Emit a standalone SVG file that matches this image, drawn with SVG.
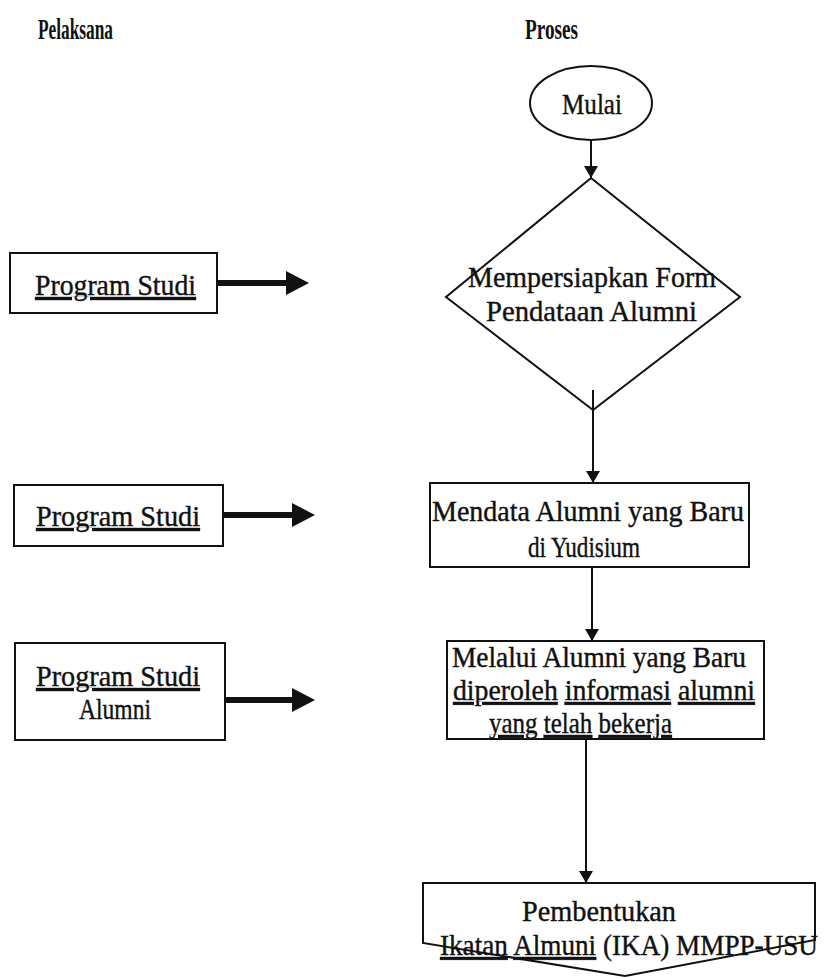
<svg xmlns="http://www.w3.org/2000/svg" width="836" height="978" viewBox="0 0 836 978">
<style>
.t{font-family:"Liberation Serif","Times New Roman",serif;font-size:30px;fill:#111;stroke:#111;stroke-width:0.4;}
.m{font-size:29px;}
.h{font-family:"Liberation Serif","Times New Roman",serif;font-size:30px;font-weight:bold;fill:#111;}
.s{fill:#fff;stroke:#111;stroke-width:2;}
.ln{stroke:#111;stroke-width:2;fill:none;}
.u{text-decoration:underline;}
</style>
<defs>
<marker id="ah" viewBox="0 0 12 14" refX="12" refY="7" markerWidth="12" markerHeight="14" markerUnits="userSpaceOnUse" orient="auto">
<path d="M0,0 L12,7 L0,14 Z" fill="#111"/>
</marker>
</defs>
<rect width="836" height="978" fill="#fff"/>
<text class="h" x="38" y="39" textLength="75" lengthAdjust="spacingAndGlyphs">Pelaksana</text>
<text class="h" x="525" y="39" textLength="53" lengthAdjust="spacingAndGlyphs">Proses</text>

<g id="mulai">
<ellipse class="s" cx="591" cy="103" rx="61" ry="37"/>
<text class="t" x="592" y="114" text-anchor="middle" textLength="60" lengthAdjust="spacingAndGlyphs">Mulai</text>
</g>
<g id="form">
<polygon class="s" points="591,178 740,297 593,410 446,297"/>
<text class="t" x="468" y="287" textLength="248" lengthAdjust="spacingAndGlyphs">Mempersiapkan Form</text>
<text class="t" x="486" y="321" textLength="211" lengthAdjust="spacingAndGlyphs">Pendataan Alumni</text>
</g>
<g id="mendata">
<rect class="s" x="430" y="483" width="319" height="84"/>
<text class="t" x="432" y="521" textLength="312" lengthAdjust="spacingAndGlyphs">Mendata Alumni yang Baru</text>
<text class="t" x="528" y="557" textLength="112" lengthAdjust="spacingAndGlyphs">di Yudisium</text>
</g>
<g id="melalui">
<rect class="s" x="447" y="641" width="317" height="98"/>
<text class="t m" x="452" y="667" textLength="294" lengthAdjust="spacingAndGlyphs">Melalui Alumni yang Baru</text>
<text class="t m" x="453" y="700" textLength="302" lengthAdjust="spacingAndGlyphs"><tspan class="u">diperoleh</tspan> <tspan class="u">informasi</tspan> <tspan class="u">alumni</tspan></text>
<text class="t m" x="489" y="733" textLength="183" lengthAdjust="spacingAndGlyphs"><tspan class="u">yang</tspan> <tspan class="u">telah</tspan> <tspan class="u">bekerja</tspan></text>
</g>
<g id="ika">
<polygon class="s" points="423,883 815,883 815,940 625,976 423,943"/>
<text class="t m" x="522" y="921" textLength="154" lengthAdjust="spacingAndGlyphs">Pembentukan</text>
<text class="t m" x="440" y="955" textLength="378" lengthAdjust="spacingAndGlyphs"><tspan class="u">Ikatan</tspan> <tspan class="u">Almuni</tspan> (IKA) MMPP-USU</text>
</g>

<g id="pelaksana1">
<rect class="s" x="10" y="253" width="207" height="60"/>
<text class="t" x="35" y="295" textLength="161" lengthAdjust="spacingAndGlyphs"><tspan class="u">Program  Studi</tspan></text>
</g>
<g id="pelaksana2">
<rect class="s" x="14" y="485" width="209" height="61"/>
<text class="t" x="36" y="526" textLength="164" lengthAdjust="spacingAndGlyphs"><tspan class="u">Program  Studi</tspan></text>
</g>
<g id="pelaksana3">
<rect class="s" x="15" y="643" width="210" height="97"/>
<text class="t" x="36" y="686" textLength="164" lengthAdjust="spacingAndGlyphs"><tspan class="u">Program  Studi</tspan></text>
<text class="t" x="79" y="719" textLength="72" lengthAdjust="spacingAndGlyphs">Alumni</text>
</g>

<g id="connectors">
<line class="ln" x1="591" y1="140" x2="591" y2="178" marker-end="url(#ah)"/>
<line class="ln" x1="593" y1="390" x2="593" y2="483" marker-end="url(#ah)"/>
<line class="ln" x1="592" y1="567" x2="592" y2="641" marker-end="url(#ah)"/>
<line class="ln" x1="586" y1="739" x2="586" y2="883" marker-end="url(#ah)"/>
<polygon fill="#111" points="217,280 286,280 286,271 309,283 286,295 286,286 217,286"/>
<polygon fill="#111" points="223,512 292,512 292,503 315,515 292,527 292,518 223,518"/>
<polygon fill="#111" points="225,697 292,697 292,688 315,700 292,712 292,703 225,703"/>
</g>
</svg>
